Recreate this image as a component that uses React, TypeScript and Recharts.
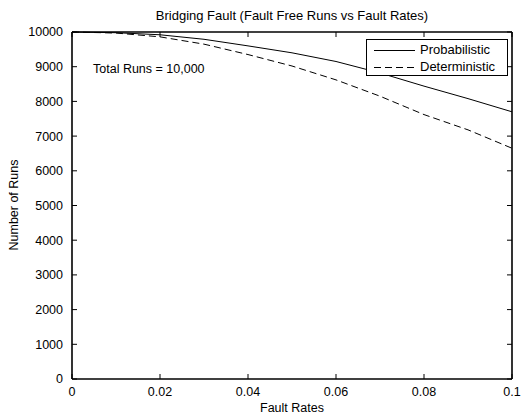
import { LineChart, Line, XAxis, YAxis } from 'recharts'

const rates = [0, 0.01, 0.02, 0.03, 0.04, 0.05, 0.06, 0.07, 0.08, 0.09, 0.1]
const probabilistic = [10000, 9980, 9920, 9790, 9600, 9400, 9150, 8820, 8440, 8080, 7700]
const deterministic = [10000, 9970, 9860, 9650, 9350, 9020, 8620, 8150, 7620, 7180, 6650]
const xTicks = [0, 0.02, 0.04, 0.06, 0.08, 0.1]
const yTicks = [0, 1000, 2000, 3000, 4000, 5000, 6000, 7000, 8000, 9000, 10000]

const data = rates.map((rate, i) => ({
  rate,
  probabilistic: probabilistic[i],
  deterministic: deterministic[i],
}))

const font = '"Liberation Sans", Arial, sans-serif'
const TICK = 5
const X_GAP = 8
const Y_GAP = 9

// labels plus inward tick marks, MATLAB style
const BottomTick = ({ x, y, payload }: any) => (
  <g>
    <line x1={x} x2={x} y1={y - X_GAP} y2={y - X_GAP - TICK} stroke="#000" />
    <text x={x} y={y} dy="0.71em" textAnchor="middle" fill="#000" fontSize={12.5} fontFamily={font}>
      {payload.value}
    </text>
  </g>
)

const LeftTick = ({ x, y, payload }: any) => (
  <g>
    <line x1={x + Y_GAP} x2={x + Y_GAP + TICK} y1={y} y2={y} stroke="#000" />
    <text x={x} y={y} dy="0.355em" textAnchor="end" fill="#000" fontSize={12.5} fontFamily={font}>
      {payload.value}
    </text>
  </g>
)

const TopTick = ({ x, y }: any) => <line x1={x} x2={x} y1={y} y2={y + TICK} stroke="#000" />
const RightTick = ({ x, y }: any) => <line x1={x} x2={x - TICK} y1={y} y2={y} stroke="#000" />

export default function App() {
  return (
    <div style={{ position: 'relative', width: 522, height: 418, background: '#fff', fontFamily: font, color: '#000' }}>
      <style>{'body{margin:0}'}</style>
      <LineChart width={522} height={418} data={data} margin={{ top: 31, right: 9, bottom: 0, left: 0 }}>
        <XAxis
          dataKey="rate"
          type="number"
          domain={[0, 0.1]}
          ticks={xTicks}
          height={39}
          tickSize={0}
          tickMargin={X_GAP}
          tickLine={false}
          tick={<BottomTick />}
          stroke="#000"
          strokeWidth={1.6}
          interval={0}
        />
        <XAxis
          xAxisId="top"
          orientation="top"
          dataKey="rate"
          type="number"
          domain={[0, 0.1]}
          ticks={xTicks}
          height={1}
          tickSize={0}
          tickMargin={0}
          tickLine={false}
          tick={<TopTick />}
          stroke="#000"
          strokeWidth={1.6}
          interval={0}
        />
        <YAxis
          type="number"
          domain={[0, 10000]}
          ticks={yTicks}
          width={72}
          tickSize={0}
          tickMargin={Y_GAP}
          tickLine={false}
          tick={<LeftTick />}
          stroke="#000"
          strokeWidth={1.6}
          interval={0}
        />
        <YAxis
          yAxisId="right"
          orientation="right"
          type="number"
          domain={[0, 10000]}
          ticks={yTicks}
          width={1}
          tickSize={0}
          tickMargin={0}
          tickLine={false}
          tick={<RightTick />}
          stroke="#000"
          strokeWidth={1.6}
          interval={0}
        />
        <Line
          dataKey="probabilistic"
          stroke="#000"
          strokeWidth={1}
          dot={false}
          isAnimationActive={false}
        />
        <Line
          dataKey="deterministic"
          xAxisId="top"
          yAxisId="right"
          stroke="#000"
          strokeWidth={1}
          strokeDasharray="7 4"
          dot={false}
          isAnimationActive={false}
        />
      </LineChart>

      <div style={{ position: 'absolute', left: 72, width: 440, top: 8, textAlign: 'center', fontSize: 13 }}>
        Bridging Fault (Fault Free Runs vs Fault Rates)
      </div>
      <div style={{ position: 'absolute', left: 72, width: 440, top: 401, textAlign: 'center', fontSize: 12.5 }}>
        Fault Rates
      </div>
      <div
        style={{
          position: 'absolute',
          left: 14,
          top: 205,
          fontSize: 12.5,
          whiteSpace: 'nowrap',
          transform: 'translate(-50%, -50%) rotate(-90deg)',
        }}
      >
        Number of Runs
      </div>
      <div style={{ position: 'absolute', left: 93, top: 62, fontSize: 12.5 }}>Total Runs = 10,000</div>

      <div
        style={{
          position: 'absolute',
          left: 366,
          top: 39,
          width: 140,
          height: 35,
          border: '1.5px solid #000',
          background: '#fff',
          fontSize: 13,
        }}
      >
        <svg width={52} height={35} style={{ position: 'absolute', left: 0, top: 0 }}>
          <line x1={7} x2={48} y1={10.5} y2={10.5} stroke="#000" />
          <line x1={7} x2={48} y1={27.5} y2={27.5} stroke="#000" strokeDasharray="7 4" />
        </svg>
        <div style={{ position: 'absolute', left: 53, top: 2 }}>Probabilistic</div>
        <div style={{ position: 'absolute', left: 53, top: 19 }}>Deterministic</div>
      </div>
    </div>
  )
}
